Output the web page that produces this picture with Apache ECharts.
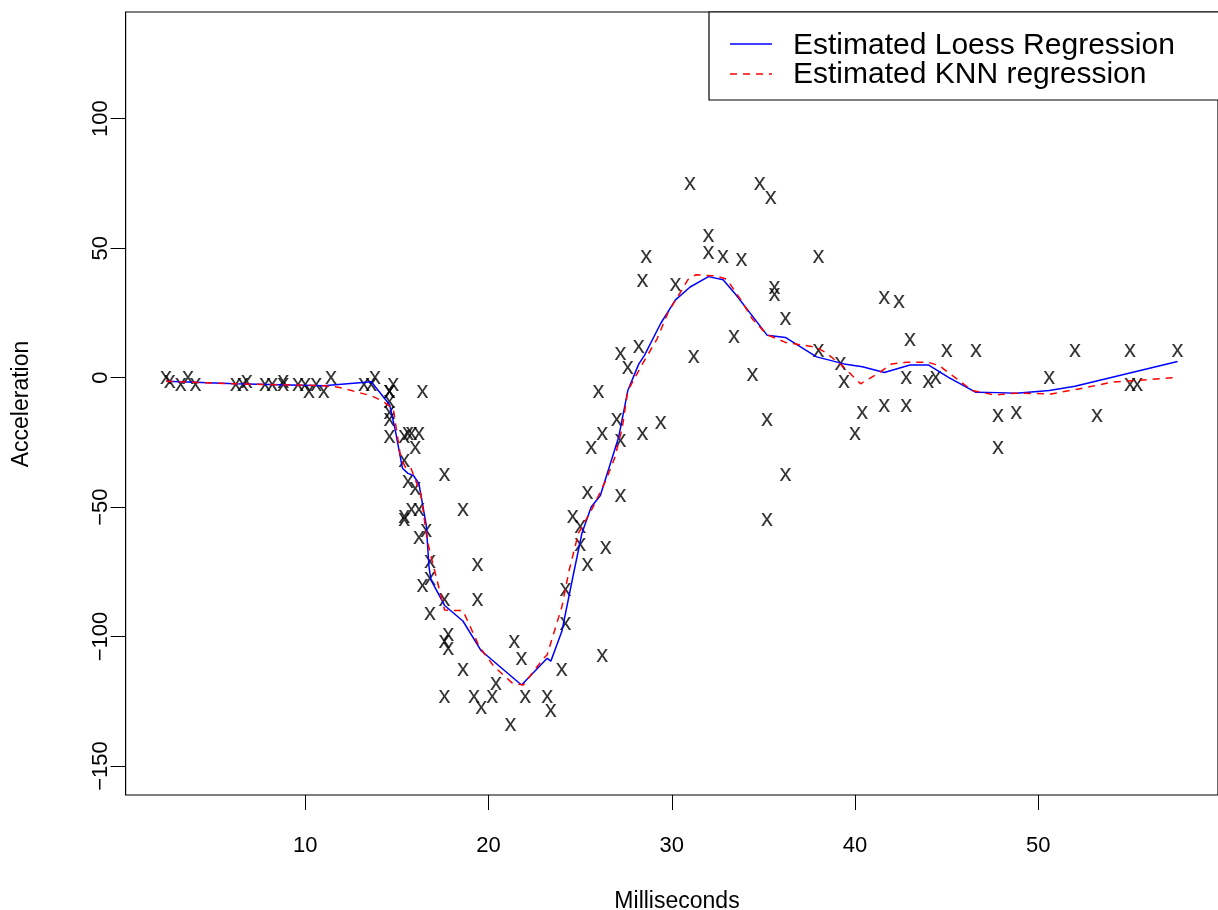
<!DOCTYPE html>
<html>
<head>
<meta charset="utf-8">
<script src="https://cdn.jsdelivr.net/npm/echarts@6/dist/echarts.min.js"></script>
<style>
html,body{margin:0;padding:0;background:#fff;}
#chart{width:1218px;height:910px;}
</style>
</head>
<body>
<div id="chart"></div>
<script>
// Observed data (mcycle): time in ms, head acceleration
var times = [2.4,2.6,3.2,3.6,4.0,6.2,6.6,6.8,7.8,8.2,8.8,8.8,9.6,10.0,10.2,10.6,11.0,11.4,13.2,13.6,13.8,14.6,14.6,14.6,14.6,14.6,14.6,14.8,15.4,15.4,15.4,15.4,15.6,15.6,15.8,15.8,16.0,16.0,16.2,16.2,16.2,16.4,16.4,16.6,16.8,16.8,16.8,17.6,17.6,17.6,17.6,17.8,17.8,18.6,18.6,19.2,19.4,19.4,19.6,20.2,20.4,21.2,21.4,21.8,22.0,23.2,23.4,24.0,24.2,24.2,24.6,25.0,25.0,25.4,25.4,25.6,26.0,26.2,26.2,26.4,27.0,27.2,27.2,27.2,27.6,28.2,28.4,28.4,28.6,29.4,30.2,31.0,31.2,32.0,32.0,32.8,33.4,33.8,34.4,34.8,35.2,35.2,35.4,35.6,35.6,36.2,36.2,38.0,38.0,39.2,39.4,40.0,40.4,41.6,41.6,42.4,42.8,42.8,43.0,44.0,44.4,45.0,46.6,47.8,47.8,48.8,50.6,52.0,53.2,55.0,55.0,55.4,57.6];
var accel = [0.0,-1.3,-2.7,0.0,-2.7,-2.7,-2.7,-1.3,-2.7,-2.7,-1.3,-2.7,-2.7,-2.7,-5.4,-2.7,-5.4,0.0,-2.7,-2.7,0.0,-13.3,-5.4,-5.4,-9.3,-16.0,-22.8,-2.7,-22.8,-32.1,-53.5,-54.9,-40.2,-21.5,-21.5,-50.8,-42.9,-26.8,-21.5,-50.8,-61.7,-5.4,-80.4,-59.0,-71.0,-91.1,-77.7,-37.5,-85.6,-123.1,-101.9,-99.1,-104.4,-112.5,-50.8,-123.1,-85.6,-72.3,-127.2,-123.1,-117.9,-134.0,-101.9,-108.4,-123.1,-123.1,-128.5,-112.5,-95.1,-81.8,-53.5,-64.4,-57.6,-72.3,-44.3,-26.8,-5.4,-107.1,-21.5,-65.6,-16.0,-45.6,-24.2,9.5,4.0,12.0,-21.5,37.5,46.9,-17.4,36.2,75.0,8.1,54.9,48.2,46.9,16.0,45.6,1.3,75.0,-16.0,-54.9,69.6,34.8,32.1,-37.5,22.8,46.9,10.7,5.4,-1.3,-21.5,-13.3,30.8,-10.7,29.4,0.0,-10.7,14.7,-1.3,0.0,10.7,10.7,-26.8,-14.7,-13.3,0.0,10.7,-14.7,-2.7,10.7,-2.7,10.7];

// Estimated Loess curve
var loessX = [2.4,6.2,11.0,13.6,14.6,14.9,15.3,15.6,15.9,16.2,16.6,16.75,16.85,17.6,18.6,19.6,21.8,23.2,23.4,24.0,24.6,25.1,25.6,26.1,27.1,27.6,28.2,28.5,29.4,30.2,31.0,32.0,32.8,33.5,35.2,36.2,37.9,39.4,40.4,41.6,43.0,44.0,45.1,46.6,47.8,48.8,50.6,52.0,57.6];
var loessY = [-1.4,-2.4,-3.1,-1.6,-10.5,-20,-35,-37,-37.8,-41,-57,-73,-78,-88,-94,-105.5,-118.7,-108.4,-109.5,-98,-77,-60,-50,-45.5,-23,-5,5.3,8.5,21,30,35,39,37.8,32,16.4,15.5,8,5.3,4.2,2,4.9,4.9,0.1,-5.7,-5.8,-6,-5,-3.3,6.2];

// Estimated KNN curve
var knnX = [2.4,6.2,11.0,11.8,13.6,14.2,14.8,15.2,15.5,15.75,16.3,16.65,17.0,17.6,18.6,19.5,20.3,21.3,21.9,23.0,23.2,24.0,24.4,24.9,25.7,26.4,26.9,27.3,27.6,28.4,29.2,29.8,30.9,31.3,32.4,33.0,33.8,34.4,35.2,36.2,37.9,38.4,39.3,40.3,41.2,42.0,42.8,44.0,44.6,46.4,47.6,48.8,50.7,52.2,54.0,57.6];
var knnY = [-1.4,-2.4,-3.1,-3.7,-7,-9,-12,-30.7,-35.2,-34.8,-44.8,-62.8,-73,-89.8,-90,-104,-111.6,-118,-118.7,-108.4,-107,-88.5,-74.4,-60.2,-50,-39.7,-30.7,-19.2,-5,5.3,15,25.2,38,39.7,39.3,38,29.7,22.6,16.6,13.6,11.7,9.7,4.6,-2.4,1.4,5.3,5.9,5.9,4.6,-5,-6.7,-6,-6.3,-4.4,-1.8,0.1];

var xTicks = [10,20,30,40,50];
var yTicks = [-150,-100,-50,0,50,100];
var legendNames = ['Estimated Loess Regression','Estimated KNN regression'];

var FONT = '"Liberation Sans", Arial, Helvetica, sans-serif';

function pairs(xs, ys){ var out=[]; for(var i=0;i<xs.length;i++) out.push([xs[i], ys[i]]); return out; }
function minusFmt(v){ return String(v).replace('-', '\u2212'); }

var chart = echarts.init(document.getElementById('chart'), null, {renderer:'canvas'});
var gridLeft = 125.6, gridTop = 12, gridW = 1103, gridH = 783;

chart.setOption({
  animation:false,
  backgroundColor:'#ffffff',
  grid:{left:gridLeft, top:gridTop, width:gridW, height:gridH, show:true, borderColor:'#000', borderWidth:1.2, backgroundColor:'transparent'},
  xAxis:{
    type:'value', min:0.192, max:59.808,
    axisLine:{show:false, onZero:false},
    splitLine:{show:false},
    axisTick:{show:true, length:15, customValues:xTicks, lineStyle:{color:'#000', width:1}},
    axisLabel:{show:true, customValues:xTicks, fontSize:22, fontFamily:FONT, color:'#000', margin:40, formatter:minusFmt}
  },
  yAxis:{
    type:'value', min:-161.2, max:141.2,
    axisLine:{show:false, onZero:false},
    splitLine:{show:false},
    axisTick:{show:true, length:15, customValues:yTicks, lineStyle:{color:'#000', width:1}},
    axisLabel:{show:true, customValues:yTicks, fontSize:22, fontFamily:FONT, color:'#000', rotate:90, margin:14, formatter:minusFmt}
  },
  series:[
    {
      type:'scatter', name:'obs', data:pairs(times, accel),
      symbol:'rect', symbolSize:1, itemStyle:{color:'rgba(0,0,0,0)'},
      label:{show:true, formatter:'x', position:'inside', fontSize:24, fontFamily:FONT, color:'#000', offset:[0,0]},
      emphasis:{disabled:true}, silent:true, z:2
    },
    {
      type:'line', name:legendNames[0], data:pairs(loessX, loessY), showSymbol:false, symbol:'none',
      lineStyle:{color:'#0000ff', width:1.5}, z:3, silent:true
    },
    {
      type:'line', name:legendNames[1], data:pairs(knnX, knnY), showSymbol:false, symbol:'none',
      lineStyle:{color:'#ff0000', width:1.5, type:[7,6]}, z:3, silent:true
    }
  ],
  graphic:[
    {type:'rect', shape:{x:709, y:12, width:600, height:88}, style:{fill:'#fff', stroke:'#000', lineWidth:1.2}, z:10},
    {type:'line', shape:{x1:730, y1:44, x2:772, y2:44}, style:{stroke:'#0000ff', lineWidth:1.5}, z:11},
    {type:'line', shape:{x1:730, y1:74, x2:772, y2:74}, style:{stroke:'#ff0000', lineWidth:1.5, lineDash:[7,6]}, z:11},
    {type:'text', x:793, y:46, style:{text:legendNames[0], fontSize:30, fontFamily:FONT, fill:'#000', align:'left', verticalAlign:'middle'}, z:11},
    {type:'text', x:793, y:75, style:{text:legendNames[1], fontSize:30, fontFamily:FONT, fill:'#000', align:'left', verticalAlign:'middle'}, z:11},
    {type:'text', x:677, y:902, style:{text:'Milliseconds', fontSize:23, fontFamily:FONT, fill:'#000', align:'center', verticalAlign:'middle'}, z:11},
    {type:'text', x:22, y:404, rotation:Math.PI/2, style:{text:'Acceleration', fontSize:23, fontFamily:FONT, fill:'#000', align:'center', verticalAlign:'middle'}, z:11}
  ]
});
</script>
</body>
</html>
